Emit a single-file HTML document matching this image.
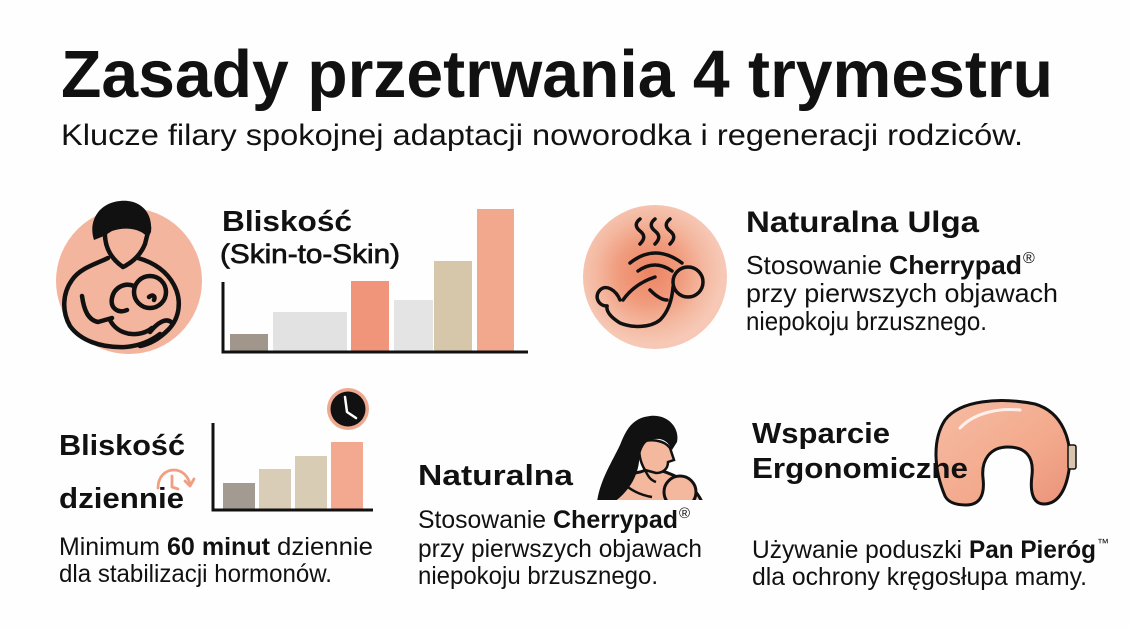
<!DOCTYPE html>
<html><head><meta charset="utf-8"><style>
html,body{margin:0;padding:0;background:#fefefe;}
svg{display:block;}
text{font-family:"Liberation Sans",sans-serif;fill:#111;}
</style></head><body>
<svg width="1129" height="630" viewBox="0 0 1129 630" xmlns="http://www.w3.org/2000/svg">
<defs>
<radialGradient id="g2" cx="650" cy="272" r="72" gradientUnits="userSpaceOnUse">
<stop offset="0" stop-color="#ec8462"/><stop offset="0.45" stop-color="#f09c7e"/><stop offset="0.75" stop-color="#f4b8a0"/><stop offset="1" stop-color="#f6c8b5"/>
</radialGradient>
<linearGradient id="gp" x1="0" y1="0" x2="1" y2="1">
<stop offset="0" stop-color="#f6bca3"/><stop offset="0.6" stop-color="#f3a98c"/><stop offset="1" stop-color="#e9927a"/>
</linearGradient>
<clipPath id="cw"><rect x="580" y="400" width="140" height="100"/></clipPath>
</defs>
<rect width="1129" height="630" fill="#fefefe"/>

<!-- Title -->
<text x="61" y="97" font-size="67" font-weight="bold" textLength="992" lengthAdjust="spacingAndGlyphs">Zasady przetrwania 4 trymestru</text>
<text x="61" y="145" font-size="30" textLength="962" lengthAdjust="spacingAndGlyphs">Klucze filary spokojnej adaptacji noworodka i regeneracji rodziców.</text>

<!-- Section 1 icon -->
<circle cx="129" cy="281" r="73" fill="#f3b59d"/>
<g fill="none" stroke="#111" stroke-width="4.5" stroke-linecap="round" stroke-linejoin="round">
<path d="M105,230 C104,246 110,258 123,267 C133,262 141,254 145,244 L149,228"/>
<path d="M108,258 C96,264 80,268 72,280 C62,294 62,312 70,326 C80,340 100,348 125,347 C140,346 152,340 160,334"/>
<path d="M138,258 C152,262 166,270 174,285 C182,300 180,318 168,330 C160,338 150,344 140,346"/>
<path d="M150,332 C158,322 166,318 171,322"/>
<path d="M82,296 C84,310 88,320 98,322 L112,318"/>
<circle cx="150" cy="292" r="16"/>
<path d="M134,286 C124,282 114,288 112,298 C110,308 118,314 127,310"/>
<path d="M110,320 C118,336 140,338 152,328"/>
<path d="M149,297 C152,294 156,296 154,300"/>
</g>
<path d="M94,240 C88,222 98,203 120,201 C140,199 153,212 151,232 L148,238 C142,229 126,226 112,231 L104,236 Z" fill="#111"/>

<!-- Section 1 text -->
<text x="222" y="231" font-size="29" font-weight="bold" textLength="130" lengthAdjust="spacingAndGlyphs">Bliskość</text>
<text x="220" y="263" font-size="27" stroke="#111" stroke-width="0.7" textLength="180" lengthAdjust="spacingAndGlyphs">(Skin-to-Skin)</text>

<!-- Chart 1 -->
<rect x="230" y="334" width="38" height="18" fill="#a0968c"/>
<rect x="273" y="312" width="74" height="40" fill="#e2e2e2"/>
<rect x="351" y="281" width="38" height="71" fill="#f0947a"/>
<rect x="394" y="300" width="39" height="52" fill="#e4e4e4"/>
<rect x="434" y="261" width="38" height="91" fill="#d6c6aa"/>
<rect x="477" y="209" width="37" height="143" fill="#f2a88d"/>
<path d="M223,282 L223,352 L528,352" fill="none" stroke="#111" stroke-width="3"/>

<!-- Section 2 icon -->
<circle cx="655" cy="277" r="72" fill="url(#g2)"/>
<g fill="none" stroke="#111" stroke-width="3.5" stroke-linecap="round" stroke-linejoin="round">
<path d="M640,219 c-5,4 -5,8 0,12 s5,8 0,13"/>
<path d="M655,219 c-5,4 -5,8 0,12 s5,8 0,13"/>
<path d="M670,219 c-5,4 -5,8 0,12 s5,8 0,13"/>
<path d="M630,263 Q655,243 682,263"/>
<path d="M638,271 Q655,259 672,271"/>
<circle cx="688" cy="282" r="15"/>
<path d="M673,287 C672,300 668,312 660,320 C650,328 632,328 620,323 C612,318 606,312 607,306"/>
<path d="M607,306 C598,306 594,296 600,290 C606,284 616,290 620,300"/>
<path d="M623,300 C630,290 640,282 655,277"/>
<path d="M650,290 C656,296 662,300 667,300"/>
</g>

<!-- Section 2 text -->
<text x="746" y="232" font-size="30" font-weight="bold" textLength="233" lengthAdjust="spacingAndGlyphs">Naturalna Ulga</text>
<text x="746" y="274" font-size="26" textLength="136" lengthAdjust="spacingAndGlyphs">Stosowanie</text>
<text x="889" y="274" font-size="26" font-weight="bold" textLength="133" lengthAdjust="spacingAndGlyphs">Cherrypad</text>
<text x="1023" y="263" font-size="16">®</text>
<text x="746" y="302" font-size="26" textLength="312" lengthAdjust="spacingAndGlyphs">przy pierwszych objawach</text>
<text x="746" y="330" font-size="26" textLength="241" lengthAdjust="spacingAndGlyphs">niepokoju brzusznego.</text>

<!-- Section 3 -->
<text x="59" y="455" font-size="29" font-weight="bold" textLength="126" lengthAdjust="spacingAndGlyphs">Bliskość</text>
<g fill="none" stroke="#f0a080" stroke-width="2.8" stroke-linecap="round" stroke-linejoin="round">
<path d="M158,488 C158,476 166,470 174,470 C182,470 188,476 190,484"/>
<path d="M185,481 L190,486 L194,479"/>
<path d="M172,476 L172,487 L178,489"/>
</g>
<text x="59" y="508" font-size="29" font-weight="bold" textLength="125" lengthAdjust="spacingAndGlyphs">dziennie</text>

<rect x="223" y="483" width="32" height="27" fill="#a39a92"/>
<rect x="259" y="469" width="32" height="41" fill="#d9cdb8"/>
<rect x="295" y="456" width="32" height="54" fill="#d8ccb4"/>
<rect x="331" y="442" width="32" height="68" fill="#f2a98f"/>
<path d="M213,423 L213,510 L373,510" fill="none" stroke="#111" stroke-width="3"/>
<circle cx="348" cy="409" r="21" fill="#f0a88e"/>
<circle cx="348" cy="409" r="17.5" fill="#111"/>
<path d="M345,397 L347,412 L356,418" fill="none" stroke="#fff" stroke-width="2.5" stroke-linecap="round" stroke-linejoin="round"/>

<text x="59" y="555" font-size="25" textLength="101" lengthAdjust="spacingAndGlyphs">Minimum</text>
<text x="167" y="555" font-size="25" font-weight="bold" textLength="103" lengthAdjust="spacingAndGlyphs">60 minut</text>
<text x="277" y="555" font-size="25" textLength="96" lengthAdjust="spacingAndGlyphs">dziennie</text>
<text x="59" y="582" font-size="25" textLength="273" lengthAdjust="spacingAndGlyphs">dla stabilizacji hormonów.</text>

<!-- Section 4 -->
<text x="418" y="485" font-size="29" font-weight="bold" textLength="155" lengthAdjust="spacingAndGlyphs">Naturalna</text>
<g clip-path="url(#cw)">
<path d="M603,502 C606,485 618,476 640,472 L652,468 C668,472 692,480 702,502 Z" fill="#f4b89f" stroke="#111" stroke-width="3"/>
<path d="M640,443 C650,438 664,440 670,448 L674,460 L668,462 C668,468 664,473 656,473 L645,470 C640,462 638,452 640,443 Z" fill="#f4b89f" stroke="#111" stroke-width="2.5"/>
<path d="M597,502 C600,480 612,462 620,445 C626,430 632,418 650,416 C668,414 680,428 677,442 L672,450 C668,440 660,437 650,440 C643,443 640,452 639,462 C637,478 628,492 614,502 Z" fill="#111"/>
<circle cx="680" cy="492" r="16" fill="#f4b89f" stroke="#111" stroke-width="3"/>
<path d="M622,482 C630,490 640,495 652,497" fill="none" stroke="#111" stroke-width="2.5"/>
<path d="M645,470 C648,476 650,480 656,482" fill="none" stroke="#111" stroke-width="2.5"/>
</g>
<text x="418" y="528" font-size="25" textLength="128" lengthAdjust="spacingAndGlyphs">Stosowanie</text>
<text x="553" y="528" font-size="25" font-weight="bold" textLength="125" lengthAdjust="spacingAndGlyphs">Cherrypad</text>
<text x="679" y="518" font-size="15">®</text>
<text x="418" y="557" font-size="25" textLength="284" lengthAdjust="spacingAndGlyphs">przy pierwszych objawach</text>
<text x="418" y="584" font-size="25" textLength="240" lengthAdjust="spacingAndGlyphs">niepokoju brzusznego.</text>

<!-- Section 5 -->
<path d="M945,496 C934,470 932,440 945,420 C960,400 1000,397 1035,404 C1062,412 1073,440 1069,470 C1066,490 1058,504 1044,504 C1032,504 1030,490 1032,475 C1034,456 1025,447 1008,447 C990,447 981,460 983,478 C985,495 980,505 966,505 C955,505 948,502 945,496 Z" fill="url(#gp)" stroke="#111" stroke-width="3"/>
<path d="M960,428 C975,412 1000,408 1020,410" fill="none" stroke="#fff" stroke-width="3" stroke-linecap="round" opacity="0.8"/>
<rect x="1068" y="445" width="8" height="24" rx="2" fill="#d9c4ae" stroke="#111" stroke-width="1.5"/>
<text x="752" y="443" font-size="29" font-weight="bold" textLength="138" lengthAdjust="spacingAndGlyphs">Wsparcie</text>
<text x="752" y="478" font-size="29" font-weight="bold" textLength="216" lengthAdjust="spacingAndGlyphs">Ergonomiczne</text>
<text x="752" y="558" font-size="25" textLength="210" lengthAdjust="spacingAndGlyphs">Używanie poduszki</text>
<text x="969" y="558" font-size="25" font-weight="bold" textLength="127" lengthAdjust="spacingAndGlyphs">Pan Pieróg</text>
<text x="1097" y="547" font-size="12">™</text>
<text x="752" y="585" font-size="25" textLength="335" lengthAdjust="spacingAndGlyphs">dla ochrony kręgosłupa mamy.</text>
</svg>
</body></html>
